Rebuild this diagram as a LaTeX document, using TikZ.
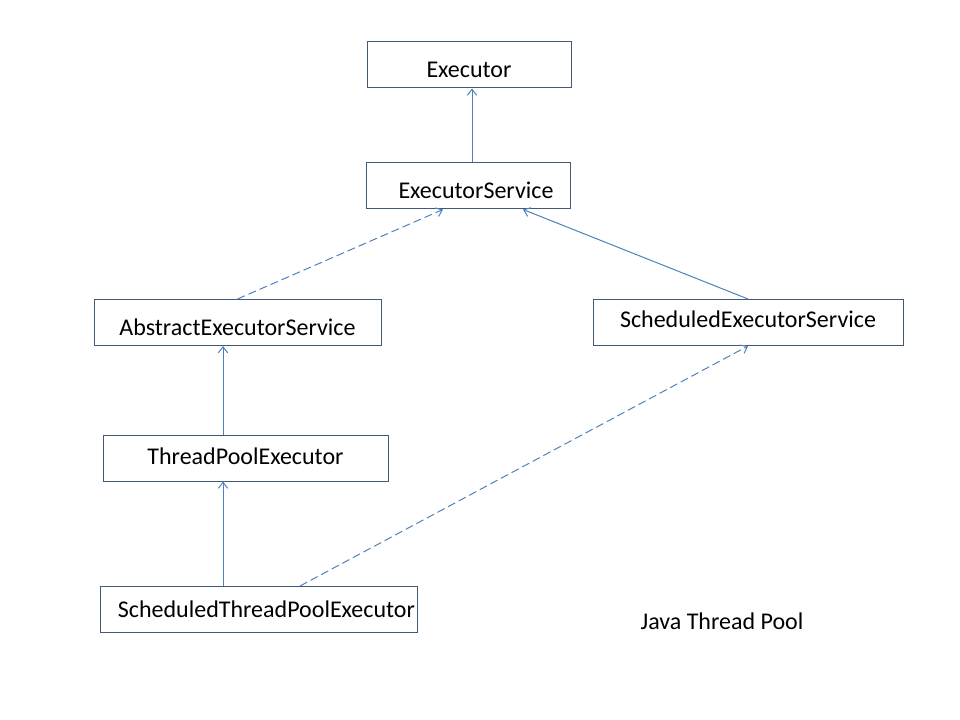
\documentclass[tikz,border=0pt]{standalone}
\usepackage{fontspec}
\setmainfont{Carlito}
\usetikzlibrary{arrows.meta,calc}
\definecolor{boxline}{RGB}{65,90,120}
\definecolor{linkblue}{RGB}{79,129,189}
\newcommand{\nudge}[2]{\raisebox{#1}[\height][\depth]{#2}}
\begin{document}
\begin{tikzpicture}[x=0.75pt,y=-0.75pt,
    cls/.style={draw=boxline, line width=0.75pt, minimum height=34.5pt, inner sep=0pt, font=\fontsize{18}{21}\selectfont},
    inherit/.style={draw=linkblue, line width=0.75pt, -{Straight Barb[length=4.5pt,width=7pt]}},
    impl/.style={inherit, dash pattern=on 6pt off 3pt}]
  \useasboundingbox (0,0) rectangle (960,720);

  \node [cls, minimum width=153pt] (exec) at (469,65) {\nudge{-4pt}{Executor}};
  \node [cls, minimum width=153pt] (es) at (468,186) {\hspace{12pt}\nudge{-3.5pt}{ExecutorService}};

  \node [cls, minimum width=215.25pt] (abs) at (237.5,322.5) {\nudge{-3.5pt}{AbstractExecutorService}};
  \node [cls, minimum width=232.5pt] (ses) at (748,322.5) {\nudge{2.5pt}{ScheduledExecutorService}};

  \node [cls, minimum width=213.75pt] (tpe) at (245.5,458) {\nudge{1.5pt}{ThreadPoolExecutor}};
  \node [cls, minimum width=237.75pt] (stpe) at (258.5,609.5) {\hspace{12pt}ScheduledThreadPoolExecutor};

  \node [font=\fontsize{18}{21}\selectfont] (jtp) at (722,621) {Java Thread Pool};

  \draw [inherit] ($(es.north)+(4,0)$) -- ($(exec.south)+(3,0)$);
  \draw [impl] (abs.north) -- ($(es.south)+(-25,0)$);
  \draw [inherit] (ses.north) -- ($(es.south)+(55,0)$);

  \draw [inherit] ($(tpe.north)+(-22.5,0)$) -- ($(abs.south)+(-14.5,0)$);
  \draw [inherit] ($(stpe.north)+(-35.5,0)$) -- ($(tpe.south)+(-22.5,0)$);
  \draw [impl] ($(stpe.north)+(41.5,0)$) -- (ses.south);
\end{tikzpicture}
\end{document}
